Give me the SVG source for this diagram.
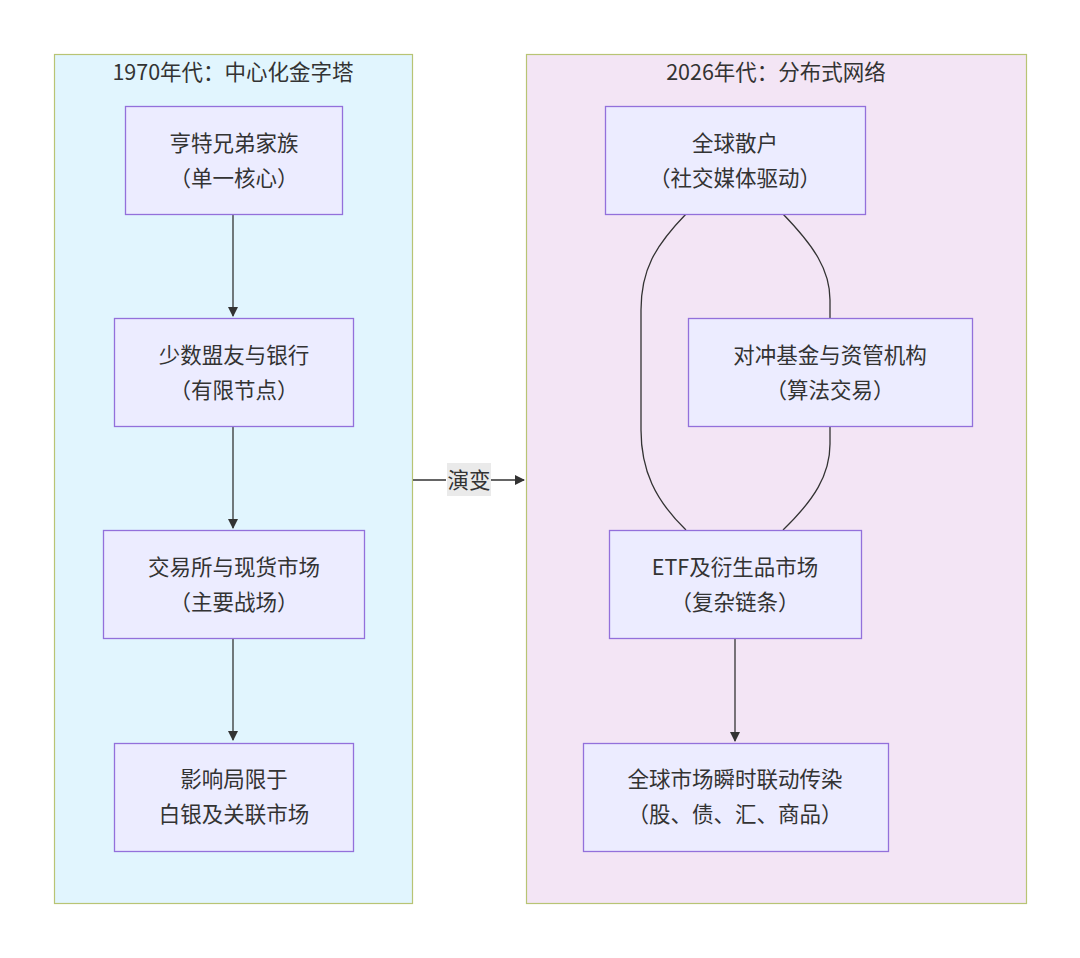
<svg xmlns="http://www.w3.org/2000/svg" width="1080" height="958" viewBox="0 0 1080 958">
<defs>
<style>
.cl{stroke:#b8c474;stroke-width:1.2}
.nd rect{fill:#ECECFF;stroke:#9370DB;stroke-width:1.3}
text{font-family:"Noto Sans CJK SC","Noto Sans",sans-serif;fill:#333;font-size:21.5px;text-anchor:middle}
.e{fill:none;stroke:#333;stroke-width:1.3}
</style>
<marker id="ah" viewBox="0 0 10 10" refX="9" refY="5" markerWidth="10" markerHeight="10" markerUnits="userSpaceOnUse" orient="auto">
<path d="M0,0L10,5L0,10z" fill="#333"/>
</marker>
</defs>
<rect width="1080" height="958" fill="#fff"/>
<g id="cluster-1970">
<rect class="cl" x="54.5" y="54.5" width="358" height="849" fill="#E1F5FE"/>
<text x="233" y="80">1970年代：中心化金字塔</text>
</g>
<g id="cluster-2026">
<rect class="cl" x="526.5" y="54.5" width="500" height="849" fill="#F3E5F5"/>
<text x="776" y="80">2026年代：分布式网络</text>
</g>
<g id="connectors">
<path class="e" d="M233,214V316" marker-end="url(#ah)"/>
<path class="e" d="M233,426V528" marker-end="url(#ah)"/>
<path class="e" d="M233,638V740" marker-end="url(#ah)"/>
<path class="e" d="M735,638V741" marker-end="url(#ah)"/>
<path class="e" d="M413,480H446M491,480H524" marker-end="url(#ah)"/>
<path class="e" d="M686,214C655,246 641,270 641,310V430C641,470 655,500 686,530"/>
<path class="e" d="M783,214C814,246 830,270 830,300V318"/>
<path class="e" d="M830,426V444C830,475 814,500 783,530"/>
<rect x="447" y="463" width="44" height="33" fill="#e8e8e8" opacity="0.9"/>
<text x="469" y="488">演变</text>
</g>
<g id="n1" class="nd"><rect x="125.5" y="106.5" width="217" height="108"/><text x="234" y="151">亨特兄弟家族</text><text x="234" y="186">（单一核心）</text></g>
<g id="n2" class="nd"><rect x="114.5" y="318.5" width="239" height="108"/><text x="234" y="363">少数盟友与银行</text><text x="234" y="398">（有限节点）</text></g>
<g id="n3" class="nd"><rect x="103.5" y="530.5" width="261" height="108"/><text x="234" y="575">交易所与现货市场</text><text x="234" y="610">（主要战场）</text></g>
<g id="n4" class="nd"><rect x="114.5" y="743.5" width="239" height="108"/><text x="234" y="787">影响局限于</text><text x="234" y="822">白银及关联市场</text></g>
<g id="m1" class="nd"><rect x="605.5" y="106.5" width="260" height="108"/><text x="735" y="151">全球散户</text><text x="735" y="186">（社交媒体驱动）</text></g>
<g id="m2" class="nd"><rect x="688.5" y="318.5" width="284" height="108"/><text x="830" y="363">对冲基金与资管机构</text><text x="830" y="398">（算法交易）</text></g>
<g id="m3" class="nd"><rect x="609.5" y="530.5" width="252" height="108"/><text x="735" y="575">ETF及衍生品市场</text><text x="735" y="610">（复杂链条）</text></g>
<g id="m4" class="nd"><rect x="583.5" y="743.5" width="305" height="108"/><text x="735" y="787">全球市场瞬时联动传染</text><text x="735" y="822">（股、债、汇、商品）</text></g>
</svg>
